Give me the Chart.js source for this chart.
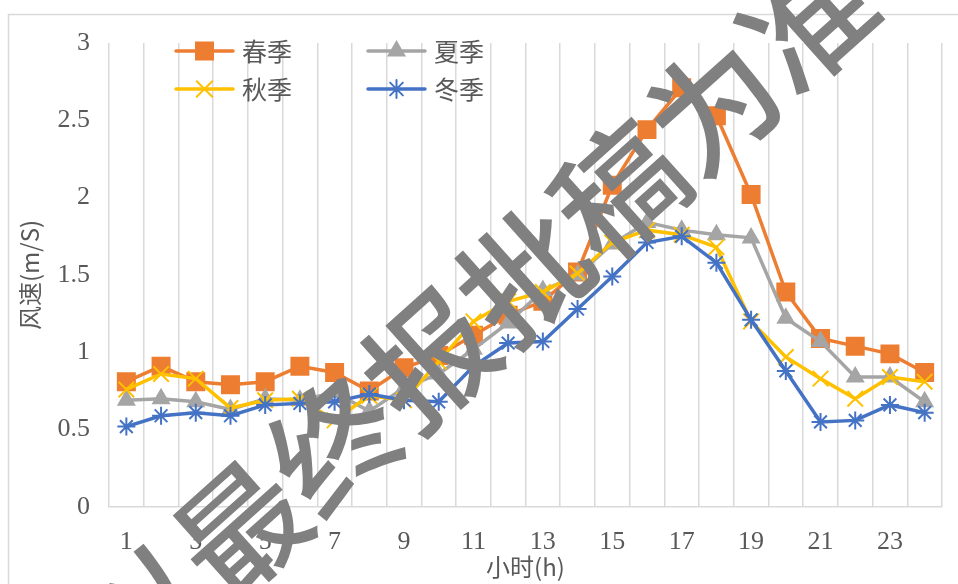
<!DOCTYPE html>
<html>
<head>
<meta charset="utf-8">
<script src="https://cdn.jsdelivr.net/npm/chart.js@4.4.0/dist/chart.umd.min.js"></script>
<style>
  html, body { margin: 0; padding: 0; background: #ffffff; }
  #wrap { position: relative; width: 958px; height: 584px; }
  canvas { display: block; }
</style>
</head>
<body>
<div id="wrap"><canvas id="c" width="958" height="584"></canvas></div>
<script>
// Hours of the day (category axis)
const hours = [1, 2, 3, 4, 5, 6, 7, 8, 9, 10, 11, 12, 13, 14, 15, 16, 17, 18, 19, 20, 21, 22, 23, 24];
// Labels shown under the x axis
const xTickLabels = ['1', '3', '5', '7', '9', '11', '13', '15', '17', '19', '21', '23'];
// Y axis ticks
const yTicks = [0, 0.5, 1, 1.5, 2, 2.5, 3];

// Mean wind speed (m/s) per hour for each season
const spring = [0.81, 0.91, 0.81, 0.79, 0.81, 0.91, 0.87, 0.75, 0.90, 0.98, 1.11, 1.24, 1.33, 1.52, 2.08, 2.44, 2.71, 2.53, 2.02, 1.39, 1.09, 1.04, 0.99, 0.87];
const summer = [0.69, 0.70, 0.68, 0.63, 0.70, 0.69, 0.74, 0.62, 0.77, 0.86, 1.02, 1.19, 1.40, 1.50, 1.70, 1.84, 1.79, 1.76, 1.74, 1.22, 1.07, 0.84, 0.84, 0.68];
const autumn = [0.76, 0.86, 0.83, 0.64, 0.69, 0.70, 0.56, 0.72, 0.69, 0.94, 1.20, 1.33, 1.39, 1.51, 1.71, 1.79, 1.76, 1.68, 1.20, 0.97, 0.83, 0.70, 0.84, 0.81];
const winter = [0.52, 0.59, 0.61, 0.59, 0.66, 0.67, 0.68, 0.73, 0.69, 0.68, 0.91, 1.06, 1.07, 1.28, 1.49, 1.71, 1.75, 1.58, 1.21, 0.88, 0.55, 0.56, 0.66, 0.61];

const seriesNames = ['春季', '夏季', '秋季', '冬季'];
const watermarkText = '以最终报批稿为准';

const SERIF = "'Liberation Serif', 'Times New Roman', serif";
const CJK = "'Noto Sans CJK SC', 'Noto Sans', sans-serif";
const TEXT = '#595959';
const GRID = '#d9d9d9';

function series(label, data, color, style, radius, order) {
  return {
    label, data,
    borderColor: color,
    backgroundColor: color,
    borderWidth: 3.5,
    pointStyle: style,
    pointRadius: radius,
    pointHoverRadius: radius,
    pointBorderWidth: 2,
    pointBackgroundColor: color,
    pointBorderColor: color,
    tension: 0,
    order
  };
}

const datasets = [
  series(seriesNames[0], spring, '#ED7D31', 'rect', 12, 4),
  series(seriesNames[1], summer, '#A5A5A5', 'triangle', 9, 3),
  series(seriesNames[2], autumn, '#FFC000', 'crossRot', 11, 2),
  series(seriesNames[3], winter, '#4472C4', 'star', 9, 1)
];

// Light frame around the whole chart
const framePlugin = {
  id: 'frame',
  beforeDraw(chart) {
    const ctx = chart.ctx;
    ctx.save();
    ctx.fillStyle = '#ffffff';
    ctx.fillRect(0, 0, chart.width, chart.height);
    ctx.strokeStyle = GRID;
    ctx.lineWidth = 1.5;
    ctx.strokeRect(8.5, 14.5, chart.width + 20, chart.height + 20);
    ctx.restore();
  }
};

// Two-column legend inside the plot area
const legendPlugin = {
  id: 'gridLegend',
  afterDatasetsDraw(chart) {
    const ctx = chart.ctx;
    const cols = [176, 368];
    const rows = [51, 89];
    const lineLen = 57;
    chart.data.datasets.forEach((ds, i) => {
      const x0 = cols[i % 2];
      const y = rows[Math.floor(i / 2)];
      ctx.save();
      ctx.strokeStyle = ds.borderColor;
      ctx.lineWidth = ds.borderWidth;
      ctx.lineCap = 'round';
      ctx.beginPath();
      ctx.moveTo(x0, y);
      ctx.lineTo(x0 + lineLen, y);
      ctx.stroke();
      ctx.fillStyle = ds.pointBackgroundColor;
      ctx.strokeStyle = ds.pointBorderColor;
      ctx.lineWidth = ds.pointBorderWidth;
      Chart.helpers.drawPoint(ctx, { pointStyle: ds.pointStyle, radius: ds.pointRadius, rotation: 0, borderWidth: ds.pointBorderWidth }, x0 + lineLen / 2, y);
      ctx.fillStyle = TEXT;
      ctx.font = '25px ' + CJK;
      ctx.textAlign = 'left';
      ctx.textBaseline = 'middle';
      ctx.fillText(ds.label, x0 + lineLen + 9, y);
      ctx.restore();
    });
  }
};

// Diagonal stamp text across the chart
const watermarkPlugin = {
  id: 'watermark',
  afterDraw(chart) {
    const ctx = chart.ctx;
    ctx.save();
    ctx.translate(477, 317);
    ctx.rotate(-41.8 * Math.PI / 180);
    ctx.fillStyle = '#808080';
    ctx.font = '500 127px ' + CJK;
    ctx.textAlign = 'center';
    ctx.textBaseline = 'middle';
    ctx.fillText(watermarkText, 0, 0);
    ctx.restore();
  }
};

new Chart(document.getElementById('c'), {
  type: 'line',
  data: { labels: hours, datasets },
  plugins: [framePlugin, legendPlugin, watermarkPlugin],
  options: {
    responsive: false,
    animation: false,
    devicePixelRatio: 1,
    layout: { padding: { top: 43, right: 16, left: 0, bottom: 0 } },
    plugins: { legend: { display: false }, tooltip: { enabled: false } },
    scales: {
      x: {
        type: 'category',
        offset: true,
        grid: { offset: true, color: GRID, lineWidth: 1.5, drawTicks: false },
        border: { color: GRID, width: 1.5 },
        ticks: {
          autoSkip: false,
          maxRotation: 0,
          padding: 20,
          color: TEXT,
          font: { family: SERIF, size: 26 },
          callback: (v, i) => xTickLabels.includes(String(hours[i])) ? String(hours[i]) : ''
        },
        title: {
          display: true, text: '小时(h)', color: TEXT,
          font: { family: CJK, size: 24 },
          padding: { top: 0, bottom: 3 }
        },
        afterFit: s => { s.height = 77; }
      },
      y: {
        min: yTicks[0],
        max: yTicks[yTicks.length - 1],
        afterBuildTicks: s => { s.ticks = yTicks.map(v => ({ value: v })); },
        grid: { display: false, drawTicks: false },
        border: { display: false },
        ticks: {
          color: TEXT, padding: 19,
          font: { family: SERIF, size: 26 },
          callback: v => String(v)
        },
        title: {
          display: true, text: '风速(m/S)', color: TEXT,
          font: { family: CJK, size: 24 },
          padding: { top: 15, bottom: 0 }
        },
        afterFit: s => { s.width = 109; }
      }
    }
  }
});
</script>
</body>
</html>
